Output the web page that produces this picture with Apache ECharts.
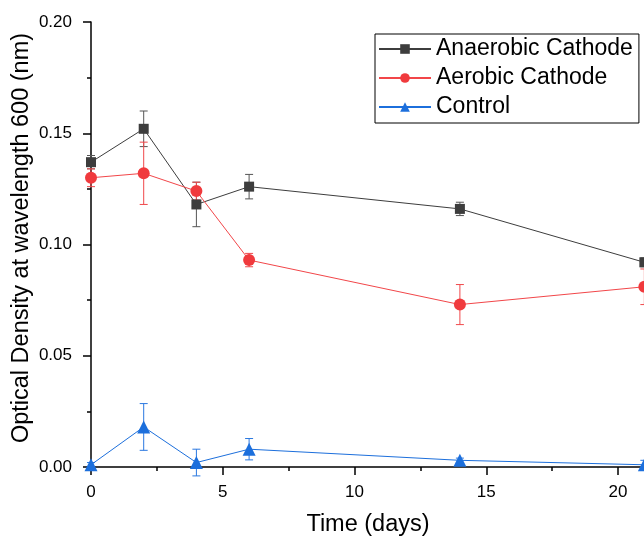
<!DOCTYPE html>
<html>
<head>
<meta charset="utf-8">
<script src="https://cdn.jsdelivr.net/npm/echarts@6/dist/echarts.min.js"></script>
<style>
  html, body { margin: 0; padding: 0; overflow: hidden; background: #fff; }
  #chart { width: 760px; height: 536px; }
</style>
</head>
<body>
<div id="chart"></div>
<script>
// sampling days
const days = [0, 2, 4, 6, 14, 21];

// optical density (mean) and error per series
const anaerobic = [0.137, 0.152, 0.118, 0.126, 0.116, 0.092];
const anaerobicErr = [0.003, 0.008, 0.010, 0.0055, 0.003, 0.002];
const aerobic = [0.130, 0.132, 0.124, 0.093, 0.073, 0.081];
const aerobicErr = [0.004, 0.014, 0.004, 0.003, 0.009, 0.008];
const control = [0.001, 0.018, 0.002, 0.008, 0.003, 0.001];
const controlErr = [0.001, 0.0105, 0.006, 0.0048, 0.001, 0.002];

const FONT = 'Liberation Sans, Arial, sans-serif';

const chart = echarts.init(document.getElementById('chart'));

// error bars drawn as custom series: [x, low, high]
function errorSeries(vals, errs, color) {
  return {
    type: 'custom',
    z: 1,
    silent: true,
    data: days.map((d, i) => [d, vals[i] - errs[i], vals[i] + errs[i]]),
    renderItem: function (params, api) {
      const lo = api.coord([api.value(0), api.value(1)]);
      const hi = api.coord([api.value(0), api.value(2)]);
      const hw = 4;
      const style = { stroke: color, lineWidth: 1 };
      return {
        type: 'group',
        children: [
          { type: 'line', shape: { x1: hi[0], y1: hi[1], x2: lo[0], y2: lo[1] }, style: style },
          { type: 'line', shape: { x1: hi[0] - hw, y1: hi[1], x2: hi[0] + hw, y2: hi[1] }, style: style },
          { type: 'line', shape: { x1: lo[0] - hw, y1: lo[1], x2: lo[0] + hw, y2: lo[1] }, style: style }
        ]
      };
    }
  };
}

const option = {
  backgroundColor: '#fff',
  animation: false,
  textStyle: { fontFamily: FONT },
  grid: { left: 91, top: 22, height: 445, width: 658.75, outerBoundsMode: 'none', containLabel: false },
  legend: {
    left: 375,
    top: 34,
    orient: 'vertical',
    borderColor: '#000',
    borderWidth: 1,
    borderRadius: 0,
    padding: [2, 6, 3, 3],
    itemWidth: 52,
    itemHeight: 12,
    itemGap: 3,
    textStyle: { fontSize: 23, color: '#000', fontFamily: FONT, lineHeight: 26 },
    data: ['Anaerobic Cathode', 'Aerobic Cathode', 'Control']
  },
  xAxis: {
    type: 'value',
    min: 0,
    max: 25,
    interval: 5,
    axisLine: { lineStyle: { color: '#000', width: 1.5 } },
    axisTick: { length: 8, lineStyle: { color: '#000', width: 1.5 } },
    minorTick: { show: true, splitNumber: 2, length: 4, lineStyle: { color: '#000', width: 1.5 } },
    axisLabel: { fontSize: 17, color: '#000', margin: 17, fontFamily: FONT },
    splitLine: { show: false }
  },
  yAxis: {
    type: 'value',
    min: 0,
    max: 0.2,
    interval: 0.05,
    axisLine: { show: true, lineStyle: { color: '#000', width: 1.5 } },
    axisTick: { show: true, length: 8, lineStyle: { color: '#000', width: 1.5 } },
    minorTick: { show: true, splitNumber: 2, length: 4, lineStyle: { color: '#000', width: 1.5 } },
    axisLabel: { fontSize: 17, color: '#000', margin: 19, fontFamily: FONT, formatter: v => v.toFixed(2) },
    splitLine: { show: false }
  },
  graphic: [
    {
      type: 'text',
      x: 368,
      y: 525,
      style: { text: 'Time (days)', fill: '#000', font: '23.5px ' + FONT, align: 'center', verticalAlign: 'middle' }
    },
    {
      type: 'text',
      x: 22,
      y: 238,
      rotation: Math.PI / 2,
      style: { text: 'Optical Density at wavelength 600 (nm)', fill: '#000', font: '23.5px ' + FONT, align: 'center', verticalAlign: 'middle' }
    }
  ],
  series: [
    errorSeries(anaerobic, anaerobicErr, '#555555'),
    errorSeries(aerobic, aerobicErr, '#f0484b'),
    errorSeries(control, controlErr, '#2a78e0'),
    {
      name: 'Anaerobic Cathode',
      type: 'line',
      z: 3,
      data: days.map((d, i) => [d, anaerobic[i]]),
      symbol: 'rect',
      symbolSize: 10,
      itemStyle: { color: '#3d3d3d' },
      lineStyle: { color: '#3d3d3d', width: 1 }
    },
    {
      name: 'Aerobic Cathode',
      type: 'line',
      z: 3,
      data: days.map((d, i) => [d, aerobic[i]]),
      symbol: 'circle',
      symbolSize: 12,
      itemStyle: { color: '#f03a3d' },
      lineStyle: { color: '#f24649', width: 1 }
    },
    {
      name: 'Control',
      type: 'line',
      z: 3,
      data: days.map((d, i) => [d, control[i]]),
      symbol: 'triangle',
      symbolSize: 13,
      itemStyle: { color: '#1c6fdc' },
      lineStyle: { color: '#1c6fdc', width: 1 }
    }
  ]
};

chart.setOption(option);
</script>
</body>
</html>
